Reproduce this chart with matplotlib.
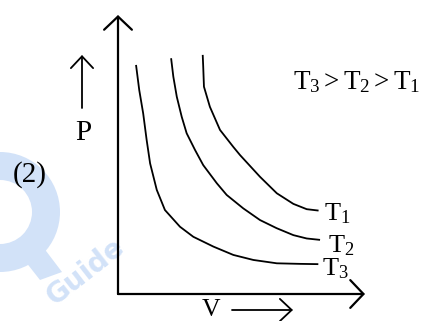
import matplotlib
matplotlib.use('Agg')
import matplotlib.pyplot as plt
from matplotlib.patches import Wedge, Polygon

plt.rcParams['font.family'] = ['Liberation Serif', 'DejaVu Serif']
plt.rcParams['mathtext.fontset'] = 'custom'
plt.rcParams['mathtext.rm'] = 'Liberation Serif'
plt.rcParams['mathtext.it'] = 'Liberation Serif:italic'

# isotherms (V, P in arbitrary units, axes run 0..10)
v_t1 = [3.43, 3.45, 3.48, 3.72, 4.13, 4.67, 4.94, 5.75, 6.43, 7.10, 7.64, 8.12]
p_t1 = [8.57, 8.15, 7.43, 6.71, 5.88, 5.27, 4.98, 4.20, 3.61, 3.23, 3.04, 2.99]

v_t2 = [2.15, 2.24, 2.38, 2.58, 2.78, 3.12, 3.45, 4.00, 4.40, 5.07, 5.75, 6.42, 7.10, 7.64, 8.18]
p_t2 = [8.45, 7.79, 7.07, 6.35, 5.76, 5.16, 4.62, 3.97, 3.55, 3.07, 2.65, 2.36, 2.11, 1.99, 1.94]

v_t3 = [0.73, 0.86, 1.02, 1.16, 1.30, 1.57, 1.90, 2.51, 3.05, 3.86, 4.67, 5.48, 6.43, 7.37, 8.11]
p_t3 = [8.21, 7.31, 6.47, 5.52, 4.68, 3.73, 3.01, 2.41, 2.05, 1.70, 1.40, 1.22, 1.10, 1.08, 1.07]

curve_labels = [r'$\mathrm{T}_1$', r'$\mathrm{T}_2$', r'$\mathrm{T}_3$']
label_offsets = [(4, -7), (6, -9), (3, -8)]  # points, from the curve end

fig = plt.figure(figsize=(4.25, 3.21), dpi=100)

# full-figure overlay in pixel units for the decorations
deco = fig.add_axes([0, 0, 1, 1], zorder=0)
deco.set_xlim(0, 425)
deco.set_ylim(321, 0)
deco.axis('off')

# faint watermark
wm = '#d2e2f8'
deco.add_patch(Wedge((0, 212), 60, -90, 90, width=28, color=wm, lw=0))
deco.add_patch(Polygon([(18, 252), (40, 243), (62, 272), (40, 280)], color=wm, lw=0))
deco.text(86, 272, 'Guide', family='DejaVu Sans', fontweight='bold', fontsize=20,
          color=wm, rotation=38, ha='center', va='center')

# main plot area
ax = fig.add_axes([118 / 425, 27 / 321, 247 / 425, 279 / 321], zorder=1)
ax.patch.set_alpha(0)
ax.set_xlim(0, 10)
ax.set_ylim(0, 10)
for s in ax.spines.values():
    s.set_visible(False)
ax.set_xticks([])
ax.set_yticks([])

axis_arrow = dict(arrowstyle='->,head_length=0.95,head_width=1.0', lw=1.6,
                  color='black', shrinkA=0, shrinkB=0, mutation_scale=10)
ax.annotate('', xy=(0, 1), xytext=(0, 0), xycoords='axes fraction', arrowprops=axis_arrow)
ax.annotate('', xy=(1, 0), xytext=(0, 0), xycoords='axes fraction', arrowprops=axis_arrow)

for v, p, lab, off in zip([v_t1, v_t2, v_t3], [p_t1, p_t2, p_t3], curve_labels, label_offsets):
    ax.plot(v, p, color='black', lw=1.3, solid_capstyle='butt')
    ax.annotate(lab, xy=(v[-1], p[-1]), xytext=off, textcoords='offset points',
                ha='left', va='baseline', fontsize=19)

ax.text(0.71, 0.735, r'$\mathrm{T}_3 > \mathrm{T}_2 > \mathrm{T}_1$', transform=ax.transAxes,
        ha='left', va='baseline', fontsize=19.5)

# P and V labels with their small arrows
small_arrow = dict(arrowstyle='->,head_length=0.85,head_width=0.8', lw=1.3,
                   color='black', shrinkA=0, shrinkB=0, mutation_scale=10)
deco.annotate('', xy=(82, 55), xytext=(82, 108), arrowprops=small_arrow)
deco.text(83, 140, 'P', fontsize=21, ha='center', va='baseline')
deco.text(211, 320.5, 'V', fontsize=18.5, ha='center', va='bottom')
deco.annotate('', xy=(293, 310), xytext=(232, 310), arrowprops=small_arrow)
deco.text(30, 182, '(2)', fontsize=21, ha='center', va='baseline')

fig.savefig('out.png', dpi=100)
